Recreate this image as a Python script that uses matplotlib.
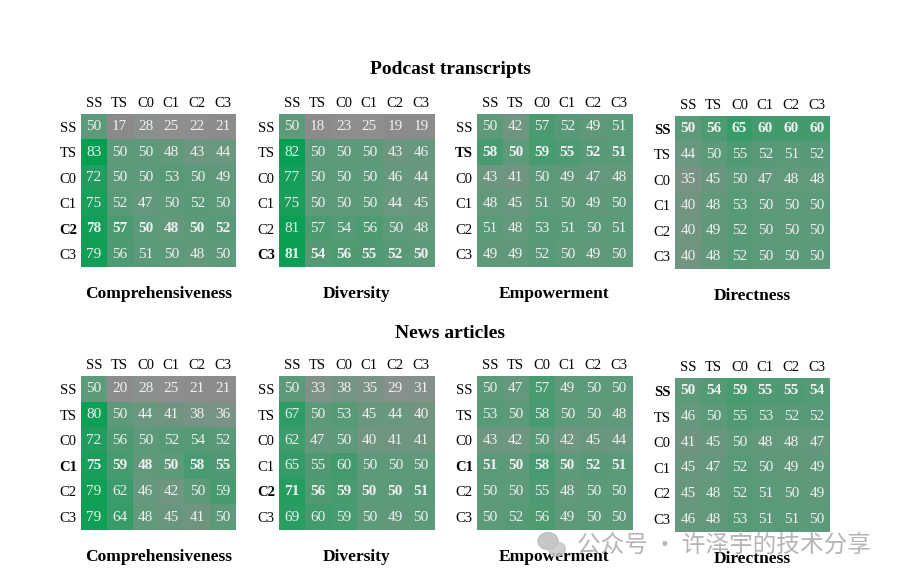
import numpy as np
import matplotlib
matplotlib.use("Agg")
import matplotlib.pyplot as plt
from matplotlib.colors import LinearSegmentedColormap, Normalize
from matplotlib.patches import Ellipse

plt.rcParams['font.family'] = ['Liberation Serif', 'DejaVu Serif']

# --- data ---
labels = ["SS", "TS", "C0", "C1", "C2", "C3"]
metrics = ["Comprehensiveness", "Diversity", "Empowerment", "Directness"]

podcast_comp = [[50, 17, 28, 25, 22, 21],
                [83, 50, 50, 48, 43, 44],
                [72, 50, 50, 53, 50, 49],
                [75, 52, 47, 50, 52, 50],
                [78, 57, 50, 48, 50, 52],
                [79, 56, 51, 50, 48, 50]]
podcast_div = [[50, 18, 23, 25, 19, 19],
               [82, 50, 50, 50, 43, 46],
               [77, 50, 50, 50, 46, 44],
               [75, 50, 50, 50, 44, 45],
               [81, 57, 54, 56, 50, 48],
               [81, 54, 56, 55, 52, 50]]
podcast_emp = [[50, 42, 57, 52, 49, 51],
               [58, 50, 59, 55, 52, 51],
               [43, 41, 50, 49, 47, 48],
               [48, 45, 51, 50, 49, 50],
               [51, 48, 53, 51, 50, 51],
               [49, 49, 52, 50, 49, 50]]
podcast_dir = [[50, 56, 65, 60, 60, 60],
               [44, 50, 55, 52, 51, 52],
               [35, 45, 50, 47, 48, 48],
               [40, 48, 53, 50, 50, 50],
               [40, 49, 52, 50, 50, 50],
               [40, 48, 52, 50, 50, 50]]

news_comp = [[50, 20, 28, 25, 21, 21],
             [80, 50, 44, 41, 38, 36],
             [72, 56, 50, 52, 54, 52],
             [75, 59, 48, 50, 58, 55],
             [79, 62, 46, 42, 50, 59],
             [79, 64, 48, 45, 41, 50]]
news_div = [[50, 33, 38, 35, 29, 31],
            [67, 50, 53, 45, 44, 40],
            [62, 47, 50, 40, 41, 41],
            [65, 55, 60, 50, 50, 50],
            [71, 56, 59, 50, 50, 51],
            [69, 60, 59, 50, 49, 50]]
news_emp = [[50, 47, 57, 49, 50, 50],
            [53, 50, 58, 50, 50, 48],
            [43, 42, 50, 42, 45, 44],
            [51, 50, 58, 50, 52, 51],
            [50, 50, 55, 48, 50, 50],
            [50, 52, 56, 49, 50, 50]]
news_dir = [[50, 54, 59, 55, 55, 54],
            [46, 50, 55, 53, 52, 52],
            [41, 45, 50, 48, 48, 47],
            [45, 47, 52, 50, 49, 49],
            [45, 48, 52, 51, 50, 49],
            [46, 48, 53, 51, 51, 50]]

# row shown in bold (winner) for each panel
podcast_bold = [4, 5, 1, 0]
news_bold = [3, 4, 3, 0]

# --- styling ---
cmap = LinearSegmentedColormap.from_list(
    "gray_green", [(0.0, "#8a8a8a"), (0.15, "#8f8f8f"), (0.5, "#5e9a7a"), (1.0, "#00a050")])
norm = Normalize(vmin=15, vmax=85)

W, H = 916, 583
fig = plt.figure(figsize=(W / 100, H / 100), dpi=100)


def px_axes(left, top, width, height):
    return fig.add_axes([left / W, 1 - (top + height) / H, width / W, height / H])


def draw_panel(ax, mat, bold_row, title):
    mat = np.array(mat)
    ax.imshow(mat, cmap=cmap, norm=norm, aspect="auto")
    for i in range(mat.shape[0]):
        for j in range(mat.shape[1]):
            ax.text(j, i, str(mat[i, j]), ha="center", va="center", fontsize=11,
                    color="#f0f0f0", fontweight="bold" if i == bold_row else "normal")
    ax.xaxis.tick_top()
    ax.set_xticks(range(len(labels)))
    ax.set_xticklabels(labels, fontsize=10.5)
    ax.set_yticks(range(len(labels)))
    ax.set_yticklabels(labels, fontsize=10.5)
    ax.get_yticklabels()[bold_row].set_fontweight("bold")
    ax.tick_params(length=0, pad=3)
    for s in ax.spines.values():
        s.set_visible(False)
    ax.set_xlabel(title, fontsize=12.5, fontweight="bold", labelpad=14)


lefts = [81, 279, 477, 675]
podcast = [podcast_comp, podcast_div, podcast_emp, podcast_dir]
news = [news_comp, news_div, news_emp, news_dir]

for k in range(4):
    top = 116 if k == 3 else 114
    ax = px_axes(lefts[k], top, 155, 153)
    draw_panel(ax, podcast[k], podcast_bold[k], metrics[k])

    top = 378 if k == 3 else 376
    ax = px_axes(lefts[k], top, 155, 154)
    draw_panel(ax, news[k], news_bold[k], metrics[k])

fig.text(450 / W, 1 - 69 / H, "Podcast transcripts", ha="center", va="center",
         fontsize=14, fontweight="bold")
fig.text(450 / W, 1 - 333 / H, "News articles", ha="center", va="center",
         fontsize=14, fontweight="bold")

# watermark
fig.patches.append(Ellipse((548 / W, 1 - 541 / H), 20 / W, 17 / H, transform=fig.transFigure,
                           color="#b8b8b8", alpha=0.8))
fig.patches.append(Ellipse((557 / W, 1 - 549 / H), 17 / W, 14 / H, transform=fig.transFigure,
                           color="#c4c4c4", alpha=0.8))
fig.text(577 / W, 1 - 545 / H, "公众号 · 许泽宇的技术分享", ha="left", va="center",
         fontsize=17, color="#a8a8a8", alpha=0.85,
         family=["Noto Sans CJK SC", "DejaVu Sans"])

fig.savefig("out.png", dpi=100)
